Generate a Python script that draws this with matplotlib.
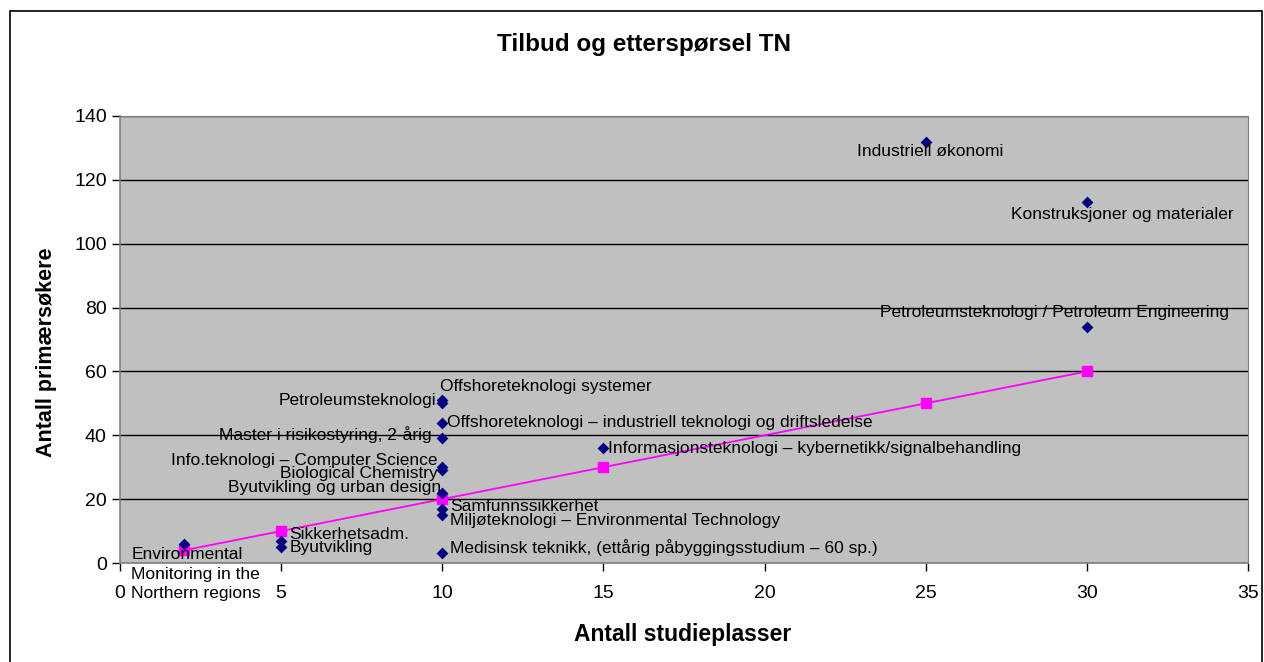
import matplotlib
matplotlib.use("Agg")
import matplotlib.pyplot as plt
from matplotlib.patches import Rectangle

plt.rcParams['font.family'] = ['Liberation Sans', 'DejaVu Sans']

# ---- data ----
programs = [
    "Environmental\nMonitoring in the\nNorthern regions",
    "Sikkerhetsadm.",
    "Byutvikling",
    "Offshoreteknologi systemer",
    "Petroleumsteknologi",
    "Offshoreteknologi – industriell teknologi og driftsledelse",
    "Master i risikostyring, 2-årig",
    "Info.teknologi – Computer Science",
    "Biological Chemistry",
    "Byutvikling og urban design",
    "Samfunnssikkerhet",
    "Miljøteknologi – Environmental Technology",
    "Medisinsk teknikk, (ettårig påbyggingsstudium – 60 sp.)",
    "Informasjonsteknologi – kybernetikk/signalbehandling",
    "Industriell økonomi",
    "Konstruksjoner og materialer",
    "Petroleumsteknologi / Petroleum Engineering",
]
study_places = [2, 5, 5, 10, 10, 10, 10, 10, 10, 10, 10, 10, 10, 15, 25, 30, 30]
primary_applicants = [6, 7, 5, 51, 50, 44, 39, 30, 29, 22, 17, 15, 3, 36, 132, 113, 74]

line_x = [2, 5, 10, 15, 25, 30]
line_y = [4, 10, 20, 30, 50, 60]

# label placement style (offset in pixels, ha, va) per point
label_style = [
    (-53, -3, 'left', 'top'),
    (8, 6, 'left', 'center'),
    (8, 0, 'left', 'center'),
    (-2, 14, 'left', 'center'),
    (-6, 3, 'right', 'center'),
    (5, 0, 'left', 'center'),
    (-11, 4, 'right', 'center'),
    (-5, 7, 'right', 'center'),
    (-5, -3, 'right', 'center'),
    (-1, 5, 'right', 'center'),
    (8, 2, 'left', 'center'),
    (8, -5, 'left', 'center'),
    (8, 6, 'left', 'center'),
    (5, 0, 'left', 'center'),
    (4, -10, 'center', 'center'),
    (35, -12, 'center', 'center'),
    (-32, 14, 'center', 'center'),
]

W, H = 1264, 662
fig = plt.figure(figsize=(W / 100, H / 100), dpi=100)
fig.patch.set_facecolor('white')

# chart border
fig.add_artist(Rectangle((10 / W, -0.01), (W - 12) / W, (H - 11) / H + 0.01,
                         transform=fig.transFigure, fill=False, edgecolor='black', lw=1.2))

ax = fig.add_axes([120 / W, 1 - 563 / H, (1248 - 120) / W, (563 - 116) / H])
ax.set_facecolor('#C0C0C0')
ax.set_xlim(0, 35)
ax.set_ylim(0, 140)
ax.set_xticks(range(0, 36, 5))
ax.set_yticks(range(0, 141, 20))
ax.grid(axis='y', color='black', lw=1)
ax.set_axisbelow(True)
for s in ['top', 'right']:
    ax.spines[s].set_color('#808080')
for s in ['left', 'bottom']:
    ax.spines[s].set_color('#808080')
    ax.spines[s].set_lw(1.2)
ax.tick_params(axis='both', direction='out', length=6, width=1, color='black',
               labelsize=14)
ax.tick_params(axis='y', pad=3.5)
ax.tick_params(axis='x', pad=10)

ax.plot(line_x, line_y, color='#FF00FF', lw=1.3, marker='s', markersize=6.5,
        markerfacecolor='#FF00FF', markeredgecolor='#FF00FF', zorder=3)
ax.scatter(study_places, primary_applicants, marker='D', s=36, color='#000080',
           zorder=4, linewidths=0)

for name, x, y, (dx, dy, ha, va) in zip(programs, study_places, primary_applicants, label_style):
    ax.annotate(name, (x, y), xytext=(dx * 0.72, dy * 0.72), textcoords='offset points',
                ha=ha, va=va, fontsize=12.5, color='black', multialignment='left',
                linespacing=1.4, annotation_clip=False, zorder=5)

fig.text(644 / W, 1 - 45 / H, "Tilbud og etterspørsel TN", ha='center', va='center',
         fontsize=17.5, fontweight='bold')
fig.text(47 / W, 1 - 352 / H, "Antall primærsøkere", ha='center', va='center',
         rotation=90, fontsize=15.5, fontweight='bold')
fig.text(683 / W, 1 - 634 / H, "Antall studieplasser", ha='center', va='center',
         fontsize=16.5, fontweight='bold')

fig.savefig('out.png', dpi=100)
